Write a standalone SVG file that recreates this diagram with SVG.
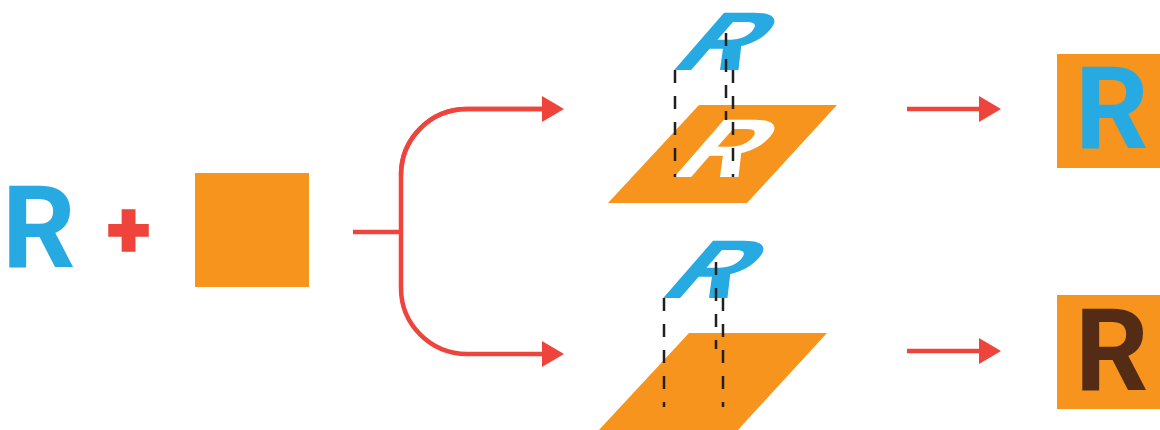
<svg xmlns="http://www.w3.org/2000/svg" width="1160" height="430" viewBox="0 0 1160 430">
<style>
.R{font-family:Roboto,"Liberation Sans",sans-serif;font-weight:700;font-size:115px}
.blue{fill:#27AAE1}
.org{fill:#F7941D}
.ln{fill:none;stroke:#EF443B;stroke-width:4.5}
.dash{fill:none;stroke:#231F20;stroke-width:2.5;stroke-dasharray:13 13}
</style>
<defs>
<marker id="ah" viewBox="0 0 22 26" refX="0" refY="13" markerWidth="22" markerHeight="26" markerUnits="userSpaceOnUse" orient="auto">
<path d="M0,0L22,13L0,26Z" fill="#EF443B"/>
</marker>
</defs>
<g id="letterR"><text class="R blue" x="2" y="267">R</text></g>
<g id="plus"><text x="128.5" y="257" text-anchor="middle" style="font-family:Roboto,'Liberation Sans',sans-serif;font-weight:900;font-size:80px;fill:#EF443B;stroke:#EF443B;stroke-width:1.5">+</text></g>
<g id="square"><rect class="org" x="195" y="173" width="114" height="114"/></g>
<g id="topPlane">
<polygon class="org" points="699,105 837,105 747,203 608,203"/>
<text class="R" fill="#fff" x="0" y="0" transform="matrix(1,0,-0.61,0.7,667,177)">R</text>
</g>
<g id="topLetter"><text class="R blue" x="0" y="0" transform="matrix(1,0,-0.61,0.7,667,70)">R</text></g>
<g id="bottomPlane"><polygon class="org" points="689,333 827,333 737,431 598,431"/></g>
<g id="bottomLetter"><text class="R blue" x="0" y="0" transform="matrix(1,0,-0.61,0.7,656,298)">R</text></g>
<g id="dashes">
<path class="dash" d="M675,70V177M733,70V177M726,33V120"/>
<path class="dash" d="M664,298V407M723,298V407M716,262V349"/>
</g>
<g id="resultTop"><rect class="org" x="1057" y="54" width="114" height="114"/><text class="R blue" x="1075" y="148">R</text></g>
<g id="resultBottom"><rect class="org" x="1057" y="295" width="114" height="114"/><text class="R" fill="#542C15" x="1075" y="390">R</text></g>
<g id="connectors">
<path class="ln" d="M353,232H401"/>
<path class="ln" d="M542,109H467A66,66 0 0 0 401,175V288A66,66 0 0 0 467,354H542" marker-end="url(#ah)"/>
<path class="ln" d="M401,175A66,66 0 0 1 467,109H542" marker-end="url(#ah)"/>
<path class="ln" d="M907,109H979" marker-end="url(#ah)"/>
<path class="ln" d="M907,351H979" marker-end="url(#ah)"/>
</g>
</svg>
